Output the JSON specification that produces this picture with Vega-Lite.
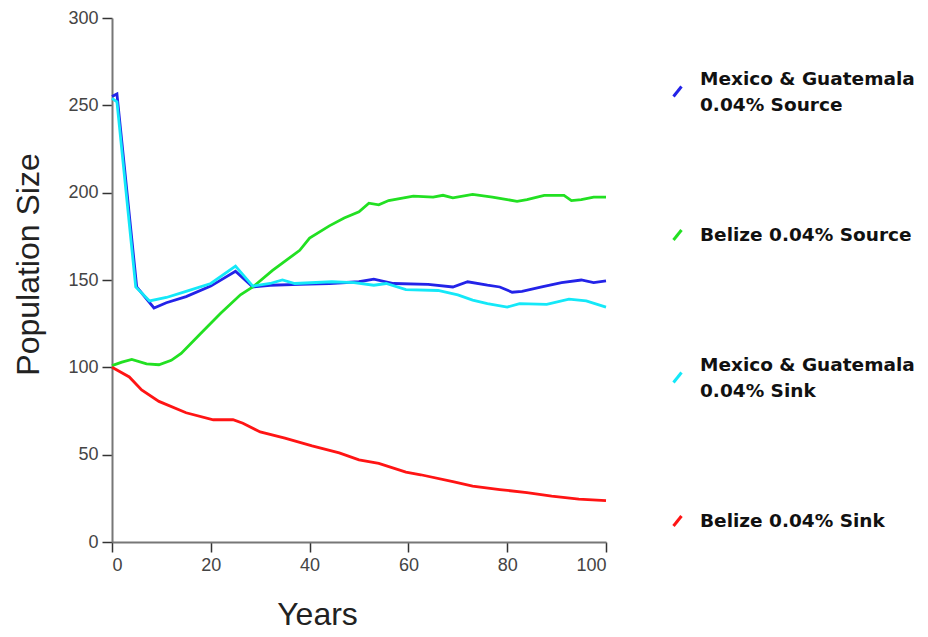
{
  "$schema": "https://vega.github.io/schema/vega-lite/v6.json",
  "width": 494,
  "height": 524,
  "autosize": "none",
  "padding": {"left": 112, "top": 18, "right": 322, "bottom": 95},
  "background": "white",
  "datasets": {
    "pop": [
      {"year": 0, "series": "Mexico & Guatemala 0.04% Source", "pop": 255},
      {"year": 1, "series": "Mexico & Guatemala 0.04% Source", "pop": 256.5},
      {"year": 5, "series": "Mexico & Guatemala 0.04% Source", "pop": 146},
      {"year": 8.5, "series": "Mexico & Guatemala 0.04% Source", "pop": 134},
      {"year": 11, "series": "Mexico & Guatemala 0.04% Source", "pop": 137},
      {"year": 15, "series": "Mexico & Guatemala 0.04% Source", "pop": 140.5},
      {"year": 20, "series": "Mexico & Guatemala 0.04% Source", "pop": 146.5},
      {"year": 25, "series": "Mexico & Guatemala 0.04% Source", "pop": 155},
      {"year": 28.5, "series": "Mexico & Guatemala 0.04% Source", "pop": 146},
      {"year": 32, "series": "Mexico & Guatemala 0.04% Source", "pop": 147},
      {"year": 38, "series": "Mexico & Guatemala 0.04% Source", "pop": 147.5},
      {"year": 44, "series": "Mexico & Guatemala 0.04% Source", "pop": 148},
      {"year": 50, "series": "Mexico & Guatemala 0.04% Source", "pop": 149},
      {"year": 53, "series": "Mexico & Guatemala 0.04% Source", "pop": 150.5},
      {"year": 57, "series": "Mexico & Guatemala 0.04% Source", "pop": 148},
      {"year": 64, "series": "Mexico & Guatemala 0.04% Source", "pop": 147.5},
      {"year": 69, "series": "Mexico & Guatemala 0.04% Source", "pop": 146},
      {"year": 72, "series": "Mexico & Guatemala 0.04% Source", "pop": 149},
      {"year": 76, "series": "Mexico & Guatemala 0.04% Source", "pop": 147},
      {"year": 78.5, "series": "Mexico & Guatemala 0.04% Source", "pop": 146},
      {"year": 81, "series": "Mexico & Guatemala 0.04% Source", "pop": 143},
      {"year": 83, "series": "Mexico & Guatemala 0.04% Source", "pop": 143.5},
      {"year": 87, "series": "Mexico & Guatemala 0.04% Source", "pop": 146},
      {"year": 91, "series": "Mexico & Guatemala 0.04% Source", "pop": 148.5},
      {"year": 95, "series": "Mexico & Guatemala 0.04% Source", "pop": 150},
      {"year": 97.5, "series": "Mexico & Guatemala 0.04% Source", "pop": 148.5},
      {"year": 100, "series": "Mexico & Guatemala 0.04% Source", "pop": 149.5},

      {"year": 0, "series": "Belize 0.04% Source", "pop": 101},
      {"year": 2, "series": "Belize 0.04% Source", "pop": 103},
      {"year": 4, "series": "Belize 0.04% Source", "pop": 104.5},
      {"year": 7, "series": "Belize 0.04% Source", "pop": 102},
      {"year": 9.5, "series": "Belize 0.04% Source", "pop": 101.5},
      {"year": 12, "series": "Belize 0.04% Source", "pop": 104},
      {"year": 14, "series": "Belize 0.04% Source", "pop": 108},
      {"year": 18, "series": "Belize 0.04% Source", "pop": 119.5},
      {"year": 22, "series": "Belize 0.04% Source", "pop": 131},
      {"year": 26, "series": "Belize 0.04% Source", "pop": 141.5},
      {"year": 28.5, "series": "Belize 0.04% Source", "pop": 146},
      {"year": 32.5, "series": "Belize 0.04% Source", "pop": 155.5},
      {"year": 38, "series": "Belize 0.04% Source", "pop": 167},
      {"year": 40, "series": "Belize 0.04% Source", "pop": 174},
      {"year": 44, "series": "Belize 0.04% Source", "pop": 181},
      {"year": 47, "series": "Belize 0.04% Source", "pop": 185.5},
      {"year": 50, "series": "Belize 0.04% Source", "pop": 189},
      {"year": 52, "series": "Belize 0.04% Source", "pop": 194},
      {"year": 54, "series": "Belize 0.04% Source", "pop": 193},
      {"year": 56, "series": "Belize 0.04% Source", "pop": 195.5},
      {"year": 61, "series": "Belize 0.04% Source", "pop": 198},
      {"year": 65, "series": "Belize 0.04% Source", "pop": 197.5},
      {"year": 67, "series": "Belize 0.04% Source", "pop": 198.5},
      {"year": 69, "series": "Belize 0.04% Source", "pop": 197},
      {"year": 73, "series": "Belize 0.04% Source", "pop": 199},
      {"year": 77, "series": "Belize 0.04% Source", "pop": 197.5},
      {"year": 80, "series": "Belize 0.04% Source", "pop": 196},
      {"year": 82, "series": "Belize 0.04% Source", "pop": 195},
      {"year": 84, "series": "Belize 0.04% Source", "pop": 196},
      {"year": 87.5, "series": "Belize 0.04% Source", "pop": 198.5},
      {"year": 91.5, "series": "Belize 0.04% Source", "pop": 198.5},
      {"year": 93, "series": "Belize 0.04% Source", "pop": 195.5},
      {"year": 95, "series": "Belize 0.04% Source", "pop": 196},
      {"year": 97.5, "series": "Belize 0.04% Source", "pop": 197.5},
      {"year": 100, "series": "Belize 0.04% Source", "pop": 197.5},

      {"year": 0, "series": "Mexico & Guatemala 0.04% Sink", "pop": 254},
      {"year": 1, "series": "Mexico & Guatemala 0.04% Sink", "pop": 252},
      {"year": 4.8, "series": "Mexico & Guatemala 0.04% Sink", "pop": 146},
      {"year": 7.6, "series": "Mexico & Guatemala 0.04% Sink", "pop": 138},
      {"year": 11, "series": "Mexico & Guatemala 0.04% Sink", "pop": 140},
      {"year": 15, "series": "Mexico & Guatemala 0.04% Sink", "pop": 143.5},
      {"year": 20, "series": "Mexico & Guatemala 0.04% Sink", "pop": 148},
      {"year": 25, "series": "Mexico & Guatemala 0.04% Sink", "pop": 158},
      {"year": 28.5, "series": "Mexico & Guatemala 0.04% Sink", "pop": 146.5},
      {"year": 32, "series": "Mexico & Guatemala 0.04% Sink", "pop": 148},
      {"year": 34.5, "series": "Mexico & Guatemala 0.04% Sink", "pop": 150},
      {"year": 37, "series": "Mexico & Guatemala 0.04% Sink", "pop": 148},
      {"year": 44.5, "series": "Mexico & Guatemala 0.04% Sink", "pop": 149},
      {"year": 49, "series": "Mexico & Guatemala 0.04% Sink", "pop": 148.5},
      {"year": 53, "series": "Mexico & Guatemala 0.04% Sink", "pop": 147},
      {"year": 55.5, "series": "Mexico & Guatemala 0.04% Sink", "pop": 148},
      {"year": 59.5, "series": "Mexico & Guatemala 0.04% Sink", "pop": 144.5},
      {"year": 66, "series": "Mexico & Guatemala 0.04% Sink", "pop": 144},
      {"year": 70, "series": "Mexico & Guatemala 0.04% Sink", "pop": 141.5},
      {"year": 73, "series": "Mexico & Guatemala 0.04% Sink", "pop": 138.5},
      {"year": 76, "series": "Mexico & Guatemala 0.04% Sink", "pop": 136.5},
      {"year": 80, "series": "Mexico & Guatemala 0.04% Sink", "pop": 134.5},
      {"year": 82.5, "series": "Mexico & Guatemala 0.04% Sink", "pop": 136.5},
      {"year": 88, "series": "Mexico & Guatemala 0.04% Sink", "pop": 136},
      {"year": 92.5, "series": "Mexico & Guatemala 0.04% Sink", "pop": 139},
      {"year": 96, "series": "Mexico & Guatemala 0.04% Sink", "pop": 138},
      {"year": 100, "series": "Mexico & Guatemala 0.04% Sink", "pop": 134.5},

      {"year": 0, "series": "Belize 0.04% Sink", "pop": 100},
      {"year": 3.5, "series": "Belize 0.04% Sink", "pop": 94.5},
      {"year": 6, "series": "Belize 0.04% Sink", "pop": 87},
      {"year": 9.5, "series": "Belize 0.04% Sink", "pop": 80.5},
      {"year": 15, "series": "Belize 0.04% Sink", "pop": 74},
      {"year": 20.5, "series": "Belize 0.04% Sink", "pop": 70},
      {"year": 24.5, "series": "Belize 0.04% Sink", "pop": 70},
      {"year": 26.5, "series": "Belize 0.04% Sink", "pop": 68},
      {"year": 30, "series": "Belize 0.04% Sink", "pop": 63},
      {"year": 35, "series": "Belize 0.04% Sink", "pop": 59.5},
      {"year": 40.5, "series": "Belize 0.04% Sink", "pop": 55},
      {"year": 46, "series": "Belize 0.04% Sink", "pop": 51},
      {"year": 50, "series": "Belize 0.04% Sink", "pop": 47},
      {"year": 54, "series": "Belize 0.04% Sink", "pop": 45},
      {"year": 59.5, "series": "Belize 0.04% Sink", "pop": 40},
      {"year": 62.5, "series": "Belize 0.04% Sink", "pop": 38.5},
      {"year": 69, "series": "Belize 0.04% Sink", "pop": 34.5},
      {"year": 73, "series": "Belize 0.04% Sink", "pop": 32},
      {"year": 78.5, "series": "Belize 0.04% Sink", "pop": 30},
      {"year": 84, "series": "Belize 0.04% Sink", "pop": 28.3},
      {"year": 89, "series": "Belize 0.04% Sink", "pop": 26.3},
      {"year": 94.5, "series": "Belize 0.04% Sink", "pop": 24.6},
      {"year": 100, "series": "Belize 0.04% Sink", "pop": 23.7}
    ]
  },
  "data": {"name": "pop"},
  "mark": {"type": "line", "strokeWidth": 2.8, "interpolate": "linear"},
  "encoding": {
    "x": {
      "field": "year",
      "type": "quantitative",
      "scale": {"domain": [0, 100], "nice": false, "zero": false},
      "axis": {
        "title": "Years",
        "values": [0, 20, 40, 60, 80, 100],
        "titleX": 205,
        "titleY": 82,
        "titleAlign": "center",
        "titleBaseline": "alphabetic",
        "titleFontSize": 32,
        "labelPadding": 4
      }
    },
    "y": {
      "field": "pop",
      "type": "quantitative",
      "scale": {"domain": [0, 300], "nice": false},
      "axis": {
        "title": "Population Size",
        "values": [0, 50, 100, 150, 200, 250, 300],
        "titleX": -74,
        "titleY": 246,
        "titleAlign": "center",
        "titleBaseline": "alphabetic",
        "titleAngle": -90,
        "titleFontSize": 32,
        "labelPadding": 4
      }
    },
    "color": {
      "field": "series",
      "type": "nominal",
      "scale": {
        "domain": ["Mexico & Guatemala 0.04% Source", "Belize 0.04% Source", "Mexico & Guatemala 0.04% Sink", "Belize 0.04% Sink"],
        "range": ["#2323e8", "#22e022", "#14e8f8", "#ff1414"]
      },
      "legend": {
        "title": null,
        "orient": "none",
        "legendX": 554,
        "legendY": 62,
        "padding": 0,
        "rowPadding": 108.5,
        "symbolType": "M-0.4,0.5L0.4,-0.5",
        "symbolSize": 400,
        "symbolStrokeWidth": 3,
        "labelFont": "DejaVu Sans",
        "labelFontSize": 18.5,
        "labelFontWeight": "bold",
        "labelColor": "#111111",
        "labelOffset": 11,
        "labelLimit": 400,
        "labelExpr": "datum.label == 'Mexico & Guatemala 0.04% Source' ? ['Mexico & Guatemala', '0.04% Source'] : datum.label == 'Mexico & Guatemala 0.04% Sink' ? ['Mexico & Guatemala', '0.04% Sink'] : datum.label",
        "encode": {"labels": {"update": {"lineHeight": {"value": 26.5}, "dy": {"signal": "indexof(datum.label, 'Mexico') >= 0 ? -13 : 0"}}}}
      }
    }
  },
  "config": {
    "view": {"stroke": null},
    "axis": {
      "grid": false,
      "domainColor": "#777777",
      "domainWidth": 2,
      "tickColor": "#333333",
      "tickWidth": 1.5,
      "tickSize": 10,
      "labelFont": "Liberation Sans",
      "labelFontSize": 18,
      "labelColor": "#444444",
      "titleFont": "Liberation Sans",
      "titleFontWeight": "normal",
      "titleColor": "#222222"
    }
  }
}
